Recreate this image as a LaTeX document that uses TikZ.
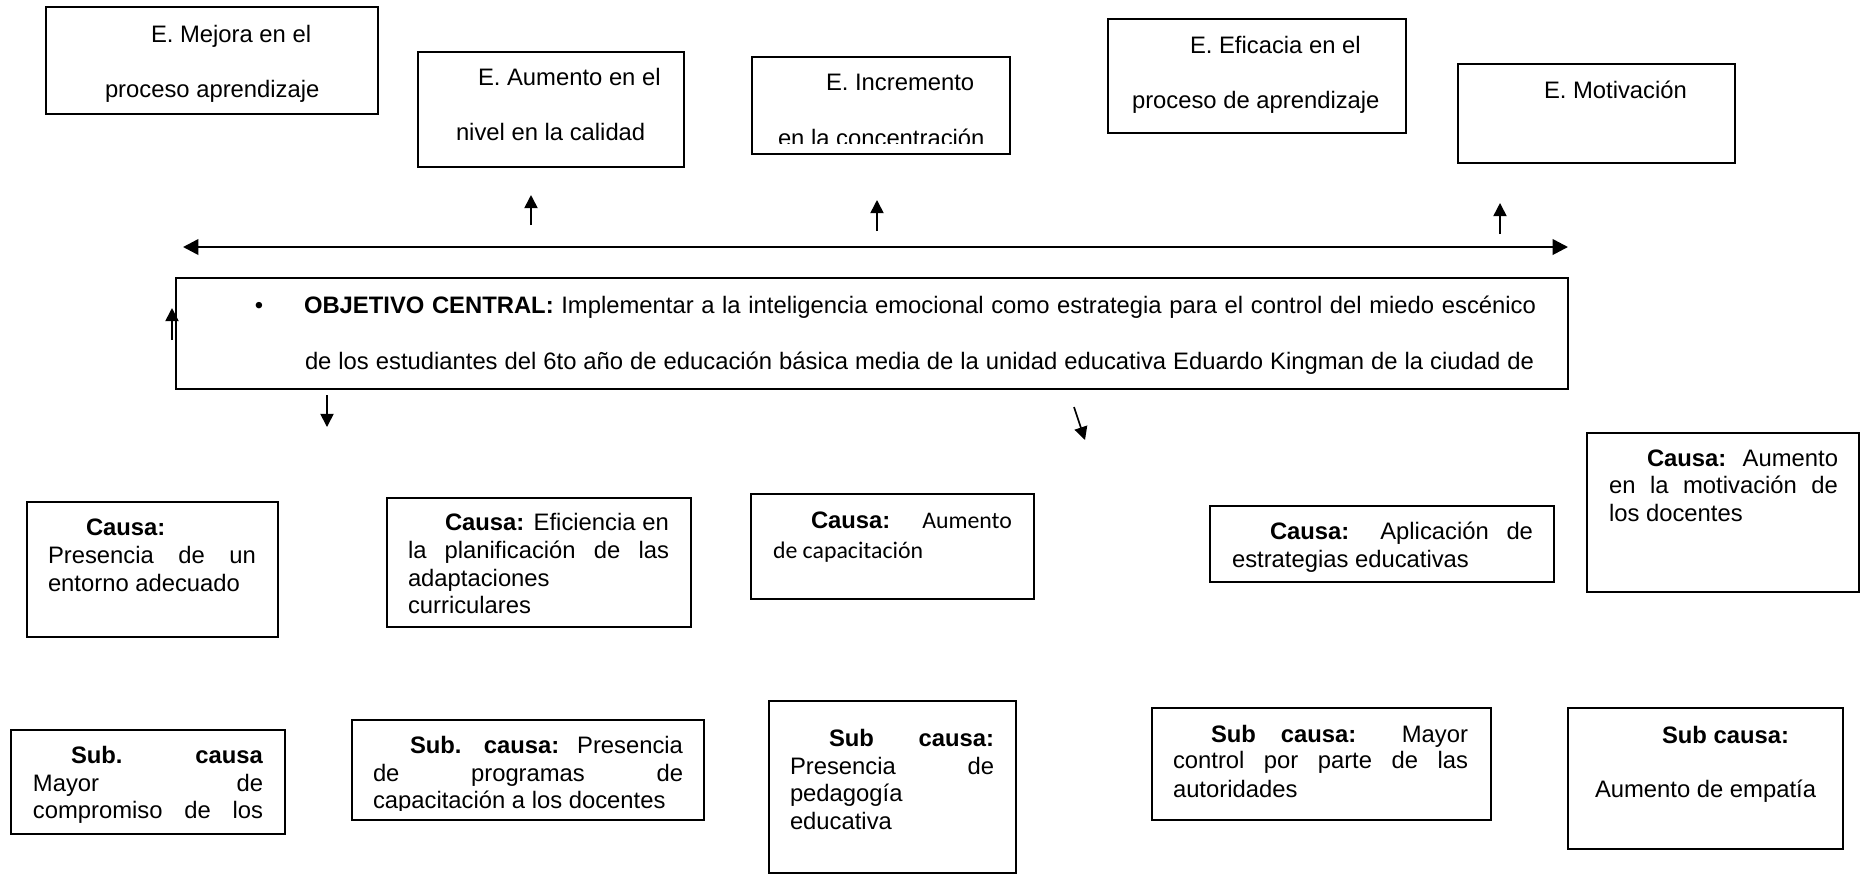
\documentclass[tikz,border=0pt]{standalone}
\usepackage{fontspec}
\setmainfont{Liberation Sans}
\newfontfamily\calibfont{Carlito}
\usetikzlibrary{arrows.meta}
\newcommand\jl[2]{\makebox[\dimexpr 0.42pt*#1\relax][s]{#2}}
\newcommand\bx[5]{\node[box, minimum width={(#4-#2)*0.42pt}, minimum height={(#5-#3)*0.42pt}] (#1) at (#2,#3) {};}
\begin{document}
\begin{tikzpicture}[x=0.42pt,y=-0.42pt,
  box/.style={draw, line width=0.9pt, anchor=north west, inner sep=0pt, outer sep=0pt},
  txt/.style={anchor=base west, inner sep=0pt, outer sep=0pt, font=\fontsize{10}{11.5}\selectfont},
  arr/.style={line width=0.7pt, -{Triangle[length=5.5pt,width=5.5pt]}},
  harr/.style={line width=1.1pt, {Triangle[length=6.5pt,width=6.5pt]}-{Triangle[length=6.5pt,width=6.5pt]}}]
\fill[white] (0,0) rectangle (1865,875);
\useasboundingbox (0,0) rectangle (1865,875);

% ---------- effect boxes ----------
\bx{e1}{46}{7}{378}{114}
\bx{e2}{418}{52}{684}{167}
\bx{e3}{752}{57}{1010}{154}
\bx{e4}{1108}{19}{1406}{133}
\bx{e5}{1458}{64}{1735}{163}

\node[txt] (e1a) at (151,42) {E. Mejora en el};
\node[txt] (e1b) at (105,97) {proceso aprendizaje};
\node[txt] (e2a) at (478,85) {E. Aumento en el};
\node[txt] (e2b) at (456,140) {nivel en la calidad};
\node[txt] (e3a) at (826,90) {E. Incremento};
\begin{scope}
\clip (752,57) rectangle (1010,143);
\node[txt] (e3b) at (778,146) {en la concentración};
\end{scope}
\node[txt] (e4a) at (1190,53) {E. Eficacia en el};
\node[txt] (e4b) at (1132,108) {proceso de aprendizaje};
\node[txt] (e5a) at (1544,98) {E. Motivación};

% ---------- arrows ----------
\coordinate (u1s) at (531,225); \coordinate (u1t) at (531,195);
\coordinate (u2s) at (877,231); \coordinate (u2t) at (877,200);
\coordinate (u3s) at (1500,234); \coordinate (u3t) at (1500,203);
\coordinate (hl) at (183,247); \coordinate (hr) at (1568,247);
\coordinate (lus) at (172,340); \coordinate (lut) at (172,308);
\coordinate (d1s) at (327,395); \coordinate (d1t) at (327,427);
\coordinate (d2s) at (1074,407); \coordinate (d2t) at (1085,440);
\draw[arr] (u1s) -- (u1t);
\draw[arr] (u2s) -- (u2t);
\draw[arr] (u3s) -- (u3t);
\draw[harr] (hl) -- (hr);

% ---------- central objective ----------
\bx{obj}{176}{278}{1568}{389}
\node[txt, anchor=base] (bul) at (259,313) {\textbullet};
\node[txt] (o1) at (304,313) {\jl{1232}{\textbf{OBJETIVO CENTRAL:} Implementar a la inteligencia emocional como estrategia para el control del miedo escénico}};
\node[txt] (o2) at (305,369) {\jl{1229}{de los estudiantes del 6to año de educación básica media de la unidad educativa Eduardo Kingman de la ciudad de}};
\draw[arr] (lus) -- (lut);
\draw[arr] (d1s) -- (d1t);
\draw[arr] (d2s) -- (d2t);

% ---------- causes ----------
\bx{c1}{27}{502}{278}{637}
\node[txt] (c1a) at (86,535) {\textbf{Causa:}};
\node[txt] (c1b) at (48,563) {\jl{208}{Presencia de un}};
\node[txt] (c1c) at (48,591) {entorno adecuado};

\bx{c2}{387}{498}{691}{627}
\node[txt] (c2a) at (445,530) {\jl{224}{\textbf{Causa:} Eficiencia en}};
\node[txt] (c2b) at (408,558) {\jl{261}{la planificación de las}};
\node[txt] (c2c) at (408,586) {adaptaciones};
\node[txt] (c2d) at (408,613) {curriculares};

\bx{c3}{751}{494}{1034}{599}
\node[txt] (c3a) at (811,528) {\jl{201}{\textbf{Causa:} {\calibfont Aumento}}};
\node[txt] (c3b) at (773,558) {\calibfont de capacitación};

\bx{c4}{1210}{506}{1554}{582}
\node[txt] (c4a) at (1270,539) {\jl{263}{\textbf{Causa:} Aplicación de}};
\node[txt] (c4b) at (1232,567) {estrategias educativas};

\bx{c5}{1587}{433}{1859}{592}
\node[txt] (c5a) at (1647,466) {\jl{191}{\textbf{Causa:} Aumento}};
\node[txt] (c5b) at (1609,493) {\jl{229}{en la motivación de}};
\node[txt] (c5c) at (1609,521) {los docentes};

% ---------- sub causes ----------
\bx{s1}{11}{730}{285}{834}
\node[txt] (s1a) at (71,763) {\jl{192}{\textbf{Sub. causa}}};
\node[txt] (s1b) at (33,791) {\jl{230}{Mayor de}};
\node[txt] (s1c) at (33,818) {\jl{230}{compromiso de los}};

\bx{s2}{352}{720}{704}{820}
\node[txt] (s2a) at (410,753) {\jl{273}{\textbf{Sub. causa:} Presencia}};
\node[txt] (s2b) at (373,781) {\jl{310}{de programas de}};
\begin{scope}
\clip (352,720) rectangle (704,810);
\node[txt] (s2c) at (373,808) {capacitación a los docentes};
\end{scope}

\bx{s3}{769}{701}{1016}{873}
\node[txt] (s3a) at (829,746) {\jl{165}{\textbf{Sub causa:}}};
\node[txt] (s3b) at (790,774) {\jl{204}{Presencia de}};
\node[txt] (s3c) at (790,801) {pedagogía};
\node[txt] (s3d) at (790,829) {educativa};

\bx{s4}{1152}{708}{1491}{820}
\node[txt] (s4a) at (1211,742) {\jl{257}{\textbf{Sub causa:} Mayor}};
\node[txt] (s4b) at (1173,768) {\jl{295}{control por parte de las}};
\node[txt] (s4c) at (1173,797) {autoridades};

\bx{s5}{1568}{708}{1843}{849}
\node[txt] (s5a) at (1662,743) {\textbf{Sub causa:}};
\node[txt] (s5b) at (1595,797) {Aumento de empatía};
\end{tikzpicture}
\end{document}
